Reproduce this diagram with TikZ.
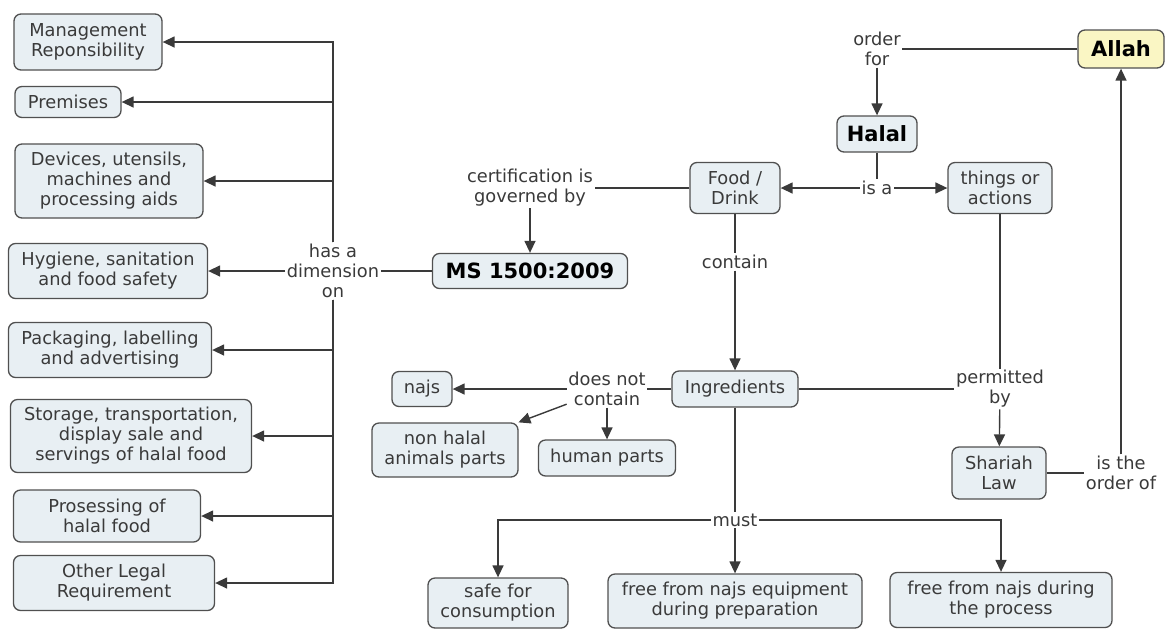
\documentclass[tikz,border=0pt]{standalone}
\usepackage{fontspec}
\setmainfont{DejaVu Sans}
\usetikzlibrary{arrows.meta}
\definecolor{boxfill}{HTML}{E8EFF3}
\definecolor{boxline}{HTML}{505050}
\definecolor{allahfill}{HTML}{FAF6C4}
\definecolor{inkgrey}{HTML}{3A3A3A}
\begin{document}
\begin{tikzpicture}[x=1pt, y=-1pt,
  concept/.style={draw=boxline, fill=boxfill, rounded corners=7pt, line width=1.3pt,
    align=center, text=inkgrey, font=\fontsize{17.8}{20}\selectfont, inner sep=2pt},
  bigconcept/.style={concept, font=\fontsize{21}{24}\selectfont\bfseries, text=black},
  linkword/.style={fill=white, align=center, text=inkgrey,
    font=\fontsize{17.8}{20}\selectfont, inner sep=1.5pt},
  wire/.style={draw=inkgrey, line width=1.4pt},
  arr/.style={wire, -{Triangle[length=12pt,width=11pt]}}]
\useasboundingbox (0,0) rectangle (1166,630);
%
%left column: the dimensions
\node[concept, minimum width=148, minimum height=56] (mgmt) at (88,42) {Management\\Reponsibility};
\node[concept, minimum width=106, minimum height=31] (prem) at (68,102) {Premises};
\node[concept, minimum width=188, minimum height=74] (dev) at (109,181) {Devices, utensils,\\machines and\\processing aids};
\node[concept, minimum width=199, minimum height=55] (hyg) at (108,271) {Hygiene, sanitation\\and food safety};
\node[concept, minimum width=203, minimum height=55] (pack) at (110,350) {Packaging, labelling\\and advertising};
\node[concept, minimum width=241, minimum height=73] (stor) at (131,436) {Storage, transportation,\\display sale and\\servings of halal food};
\node[concept, minimum width=187, minimum height=52] (pros) at (107,516) {Prosessing of\\halal food};
\node[concept, minimum width=201, minimum height=55] (other) at (114,583) {Other Legal\\Requirement};
%
%middle and right concepts
\node[bigconcept, minimum width=195, minimum height=35] (ms) at (530,271) {MS 1500:2009};
\node[concept, minimum width=90, minimum height=51] (food) at (735,188) {Food /\\Drink};
\node[bigconcept, minimum width=80, minimum height=36] (halal) at (877,134) {Halal};
\node[concept, minimum width=104, minimum height=51] (things) at (1000,188) {things or\\actions};
\node[bigconcept, fill=allahfill, minimum width=86, minimum height=38] (allah) at (1121,49) {Allah};
\node[concept, minimum width=126, minimum height=36] (ingr) at (735,389) {Ingredients};
\node[concept, minimum width=60, minimum height=35] (najs) at (422,389) {najs};
\node[concept, minimum width=146, minimum height=54] (nonhalal) at (445,450) {non halal\\animals parts};
\node[concept, minimum width=137, minimum height=36] (human) at (607,458) {human parts};
\node[concept, minimum width=94, minimum height=52] (shariah) at (999,473) {Shariah\\Law};
\node[concept, minimum width=140, minimum height=50] (safe) at (498,603) {safe for\\consumption};
\node[concept, minimum width=254, minimum height=54] (freeeq) at (735,601) {free from najs equipment\\during preparation};
\node[concept, minimum width=222, minimum height=55] (freepr) at (1001,600) {free from najs during\\the process};
%
%linking words
\node[linkword] (dim) at (333,271) {has a\\dimension\\on};
\node[linkword] (cert) at (530,188) {certification is\\governed by};
\node[linkword] (isa) at (877,188) {is a};
\node[linkword] (ordfor) at (877,49) {order\\for};
\node[linkword] (contain) at (735,262) {contain};
\node[linkword] (permby) at (1000,389) {permitted\\by};
\node[linkword] (isorder) at (1121,473) {is the\\order of};
\node[linkword] (dnc) at (607,389) {does not\\contain};
\node[linkword] (must) at (735,520) {must};
%
%connectors
\draw[arr] (dim) |- (mgmt);
\draw[arr] (dim) |- (prem);
\draw[arr] (dim) |- (dev);
\draw[arr] (dim) -- (hyg);
\draw[arr] (dim) |- (pack);
\draw[arr] (dim) |- (stor);
\draw[arr] (dim) |- (pros);
\draw[arr] (dim) |- (other);
\draw[wire] (ms) -- (dim);
%
\draw[wire] (food) -- (cert);
\draw[arr] (cert) -- (ms);
\draw[wire] (allah) -- (ordfor);
\draw[arr] (ordfor) -- (halal);
\draw[wire] (halal) -- (isa);
\draw[arr] (isa) -- (food);
\draw[arr] (isa) -- (things);
\draw[wire] (food) -- (contain);
\draw[arr] (contain) -- (ingr);
\draw[wire] (things) -- (permby);
\draw[wire] (ingr) -- (permby);
\draw[arr] (permby) -- (shariah);
\draw[wire] (shariah) -- (isorder);
\draw[arr] (isorder) -- (allah);
%
\draw[wire] (ingr) -- (dnc);
\draw[arr] (dnc) -- (najs);
\draw[arr] (dnc) -- (nonhalal);
\draw[arr] (dnc) -- (human);
\draw[wire] (ingr) -- (must);
\draw[arr] (must) -| (safe);
\draw[arr] (must) -- (freeeq);
\draw[arr] (must) -| (freepr);
\end{tikzpicture}
\end{document}
